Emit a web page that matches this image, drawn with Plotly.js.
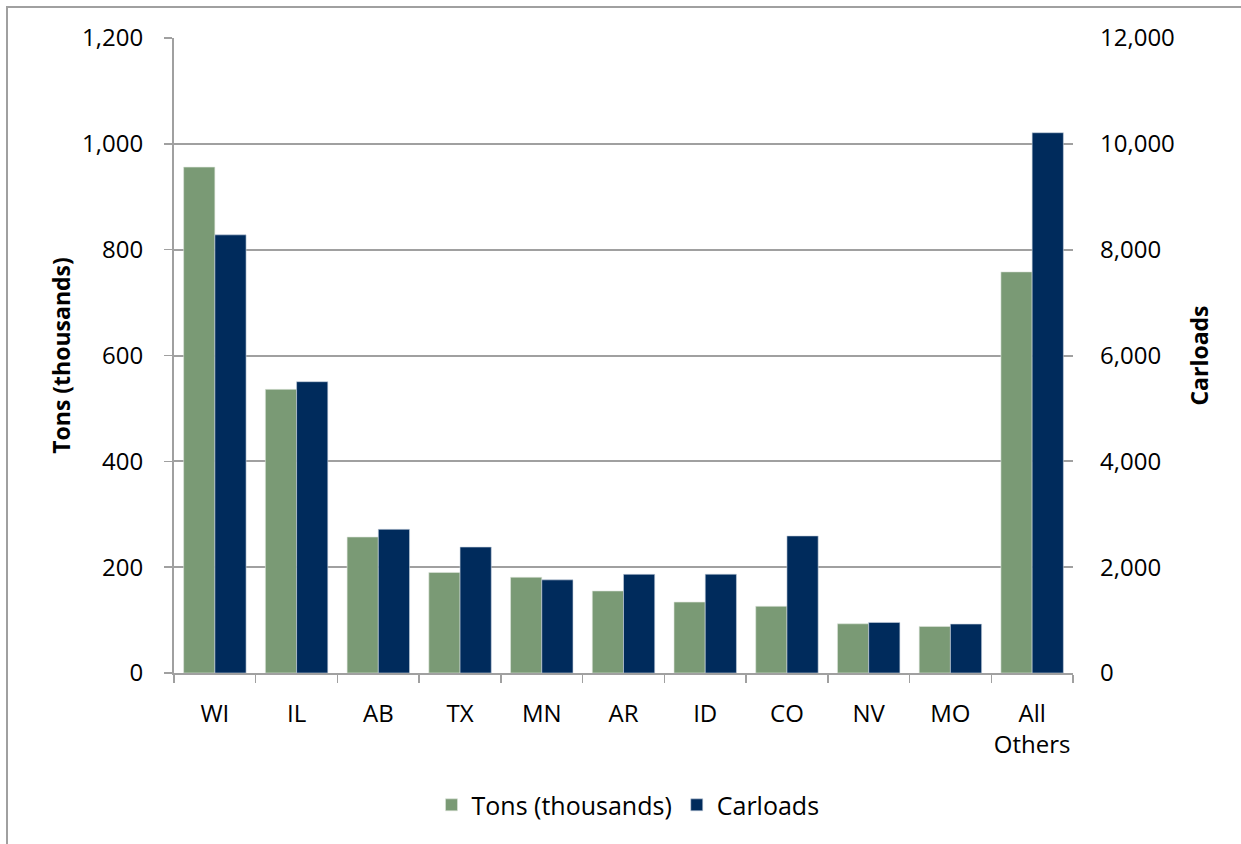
<!DOCTYPE html>
<html>
<head>
<meta charset="utf-8">
<script src="https://cdn.plot.ly/plotly-3.0.1.min.js"></script>
<style>
html,body{margin:0;padding:0;background:#fff;}
#wrap{position:relative;width:1241px;height:844px;overflow:hidden;}
#chart{position:absolute;left:0;top:0;width:1241px;height:844px;}
#frame{position:absolute;left:6px;top:6px;width:1300px;height:900px;border-left:2px solid #a0a0a0;border-top:2px solid #a0a0a0;pointer-events:none;}
</style>
</head>
<body>
<div id="wrap"><div id="chart"></div><div id="frame"></div></div>
<script>
const categories = ["WI","IL","AB","TX","MN","AR","ID","CO","NV","MO","All<br>Others"];
const tons = [956, 536, 257, 190, 181, 155, 134, 126, 93, 88, 758];
const carloads = [8280, 5505, 2715, 2380, 1760, 1865, 1867, 2590, 955, 925, 10210];
const tonsName = "Tons (thousands)";
const carloadsName = "Carloads";
const tickValsLeft = [0,200,400,600,800,1000,1200];
const tickValsRight = [0,2000,4000,6000,8000,10000,12000];

const font = "'Open Sans', 'Noto Sans', sans-serif";

const data = [
  {type:"bar", name:tonsName, x:categories, y:tons, yaxis:"y", offsetgroup:"1",
   marker:{color:"#7A9A75", line:{color:"#dfe6dd", width:0.6}}},
  {type:"bar", name:carloadsName, x:categories, y:carloads, yaxis:"y2", offsetgroup:"2",
   marker:{color:"#002B5C", line:{color:"#c9d3df", width:0.6}}}
];

const layout = {
  width:1241, height:844,
  paper_bgcolor:"rgba(0,0,0,0)", plot_bgcolor:"rgba(0,0,0,0)",
  margin:{l:174, r:168, t:38, b:171},
  font:{family:font, size:24, color:"#000"},
  barmode:"group", bargap:0.236, bargroupgap:0,
  showlegend:true,
  legend:{orientation:"h", x:0.505, xanchor:"center", y:-0.208, yanchor:"middle",
          font:{family:font, size:25, color:"#000"}, itemwidth:30, tracegroupgap:0},
  xaxis:{type:"category", tickson:"boundaries", ticks:"outside", ticklen:8, tickwidth:1.5,
         tickcolor:"#a0a0a0", showline:true, linecolor:"#a0a0a0", linewidth:2,
         showgrid:false, tickfont:{family:font, size:24, color:"#000"}, mirror:false,
         tickangle:0, ticklabelstandoff:18, range:[-0.5,10.5]},
  yaxis:{range:[0,1200], tickvals:tickValsLeft, ticktext:tickValsLeft.map(v=>v.toLocaleString("en-US")),
         ticks:"outside", ticklen:8, tickwidth:1.5, tickcolor:"#a0a0a0",
         showline:true, linecolor:"#a0a0a0", linewidth:2,
         showgrid:true, gridcolor:"#a0a0a0", gridwidth:2, zeroline:false,
         tickfont:{family:font, size:24, color:"#000"}, ticklabelstandoff:16,
         title:{text:"<b>Tons (thousands)</b>", font:{family:font, size:23, color:"#000"}, standoff:5}},
  yaxis2:{range:[0,12000], overlaying:"y", side:"right", tickvals:tickValsRight,
          ticktext:tickValsRight.map(v=>v.toLocaleString("en-US")),
          ticks:"", showline:false, showgrid:false, zeroline:false,
          tickfont:{family:font, size:24, color:"#000"}, ticklabelstandoff:26,
          title:{text:"<b>Carloads</b>", font:{family:font, size:23, color:"#000"}, standoff:18}}
};

Plotly.newPlot("chart", data, layout, {displayModeBar:false, staticPlot:true});
</script>
</body>
</html>
